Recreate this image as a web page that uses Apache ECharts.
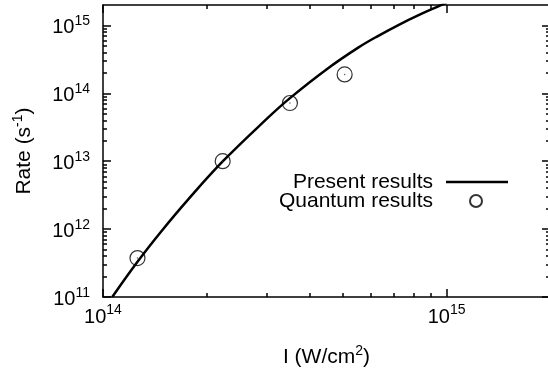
<!DOCTYPE html>
<html>
<head>
<meta charset="utf-8">
<script src="https://cdn.jsdelivr.net/npm/echarts@6/dist/echarts.min.js"></script>
<style>html,body{margin:0;padding:0;background:#fff;}#c{width:548px;height:368px;}</style>
</head>
<body>
<div id="c"></div>
<script>
// Present results (curve)
const curveI = [1.064e14, 1.26e14, 1.479e14, 1.758e14, 2.234e14, 3.006e14, 3.5e14, 4.47e14, 5.53e14, 6.31e14, 7.31e14, 8.32e14, 9.46e14, 1.0e15];
const curveRate = [1e11, 3.3e11, 9.3e11, 2.63e12, 1.0e13, 4.27e13, 8.5e13, 2.25e14, 4.71e14, 6.98e14, 1.04e15, 1.43e15, 1.91e15, 2.16e15];
// Quantum results (circles)
const quantumI = [1.26e14, 2.23e14, 3.5e14, 5.05e14];
const quantumRate = [3.75e11, 1.0e13, 7.2e13, 1.9e14];
// ticks
const xMajorTicks = [1e14, 1e15];
const xMinorTicks = [2e14, 3e14, 4e14, 5e14, 6e14, 7e14, 8e14, 9e14];
const yMajorTicks = [1e11, 1e12, 1e13, 1e14, 1e15];
const yMinorTicks = [];
[1e11, 1e12, 1e13, 1e14].forEach(d => { for (let k = 2; k <= 9; k++) yMinorTicks.push(k * d); });
yMinorTicks.push(2e15);

const FONT = 'Liberation Sans';
const black = '#000';
const rich = {
  b: {fontSize: 20, lineHeight: 27, padding: [5, 0, 0, 0], fontFamily: FONT, color: black},
  s: {fontSize: 14, lineHeight: 14, padding: [5, 0, 13, 0], fontFamily: FONT, color: black}
};
const nameRich = {s: {fontSize: 14, lineHeight: 14, padding: [0, 0, 12, 0], fontFamily: FONT, color: black}};
function powLabel(v) {
  const e = Math.round(Math.log10(v));
  return '{b|10}{s|' + e + '}';
}
const lineStyle = {color: black, width: 1.5};

function xAxisDef(pos, major, withLabel) {
  return {
    type: 'log', position: pos, min: 1e14, max: 2e15, logBase: 10,
    axisLine: {show: major, onZero: false, lineStyle: lineStyle},
    axisTick: {show: true, inside: true, length: major ? 8 : 4, lineStyle: lineStyle,
      customValues: major ? xMajorTicks : xMinorTicks},
    axisLabel: withLabel ? {show: true, customValues: xMajorTicks, formatter: powLabel, rich: rich, margin: 4, fontSize: 20, fontFamily: FONT, color: black} : {show: false},
    splitLine: {show: false},
    name: withLabel ? 'I (W/cm{s|2})' : '',
    nameLocation: 'middle', nameGap: 47,
    nameTextStyle: {fontSize: 21, lineHeight: 26, fontFamily: FONT, color: black, rich: nameRich}
  };
}
function yAxisDef(pos, major, withLabel) {
  return {
    type: 'log', position: pos, min: 1e11, max: 2e15, logBase: 10,
    axisLine: {show: major, onZero: false, lineStyle: lineStyle},
    axisTick: {show: true, inside: true, length: major ? 8 : 4, lineStyle: lineStyle,
      customValues: major ? yMajorTicks : yMinorTicks},
    axisLabel: withLabel ? {show: true, customValues: yMajorTicks, formatter: powLabel, rich: rich, margin: 13, fontSize: 20, fontFamily: FONT, color: black} : {show: false},
    splitLine: {show: false},
    name: withLabel ? 'Rate (s{s|-1})' : '',
    nameLocation: 'middle', nameGap: 66,
    nameTextStyle: {fontSize: 21, lineHeight: 26, fontFamily: FONT, color: black, rich: nameRich}
  };
}

const chart = echarts.init(document.getElementById('c'), null, {renderer: 'canvas'});
chart.setOption({
  animation: false,
  backgroundColor: '#fff',
  grid: {left: 103, right: -2, top: 5, bottom: 71, containLabel: false, outerBoundsMode: 'none'},
  xAxis: [xAxisDef('bottom', true, true), xAxisDef('bottom', false, false), xAxisDef('top', true, false), xAxisDef('top', false, false)],
  yAxis: [yAxisDef('left', true, true), yAxisDef('left', false, false), yAxisDef('right', true, false), yAxisDef('right', false, false)],
  legend: [
    {data: ['Present results'], orient: 'vertical', align: 'right', right: 40, top: 171, padding: 0,
     icon: 'rect', itemWidth: 62, itemHeight: 2.5,
     textStyle: {fontSize: 21, fontFamily: FONT, color: black, lineHeight: 22, padding: [0, 8, 0, 0]}},
    {data: ['Quantum results'], orient: 'vertical', align: 'right', right: 65, top: 190, padding: 0,
     itemWidth: 12, itemHeight: 12,
     textStyle: {fontSize: 21, fontFamily: FONT, color: black, lineHeight: 22, padding: [0, 32, 0, 0]}}
  ],
  series: [
    {name: 'Present results', type: 'line', xAxisIndex: 0, yAxisIndex: 0,
     data: curveI.map((x, i) => [x, curveRate[i]]), smooth: 0.4, symbol: 'none',
     lineStyle: {color: black, width: 2.5}, itemStyle: {color: black}, clip: true, z: 3},
    {name: 'Quantum results', type: 'scatter', xAxisIndex: 0, yAxisIndex: 0,
     data: quantumI.map((x, i) => [x, quantumRate[i]]), symbol: 'circle', symbolSize: 15,
     itemStyle: {color: 'rgba(0,0,0,0)', borderColor: black, borderWidth: 1.2}, z: 4},
    {name: 'dots', type: 'scatter', xAxisIndex: 0, yAxisIndex: 0,
     data: quantumI.map((x, i) => [x, quantumRate[i]]), symbol: 'circle', symbolSize: 1.5,
     itemStyle: {color: '#333'}, z: 5, silent: true}
  ]
});
</script>
</body>
</html>
